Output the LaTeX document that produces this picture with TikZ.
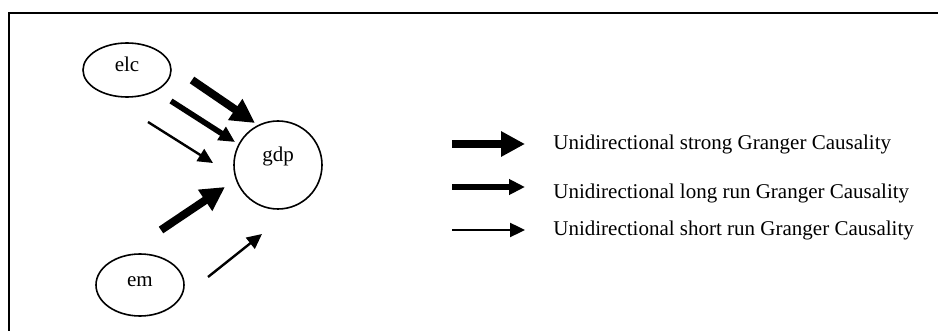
\documentclass[tikz,border=0pt]{standalone}
\usepackage{fontspec}
\setmainfont{Liberation Serif}
\usetikzlibrary{arrows.meta, shapes.geometric}

\begin{document}
\begin{tikzpicture}[x=0.5pt, y=-0.5pt,
    txt/.style={font=\fontsize{10.5pt}{12pt}\selectfont, inner sep=0pt},
    bubble/.style={ellipse, draw, line width=0.8pt, inner sep=0pt},
    strongarrow/.style={line width=4pt, -{Triangle[length=12pt, width=12pt]}},
    longarrow/.style={line width=2.8pt, -{Triangle[length=8pt, width=7.5pt]}},
    shortarrow/.style={line width=1.2pt, -{Triangle[length=7.5pt, width=7pt]}}]
    \useasboundingbox (0, 0) rectangle (938, 331);
    \clip (0, 0) rectangle (938, 331);
    \draw[line width=1pt] (9, 13) rectangle (960, 360);

    \node[bubble, minimum width=44pt, minimum height=27pt] (elc) at (127, 70) {};
    \node[bubble, circle, minimum size=44pt] (gdp) at (278, 165) {};
    \node[bubble, minimum width=44pt, minimum height=31pt] (em) at (140, 285) {};
    \node[txt, anchor=base] (elctext) at (127, 72) {elc};
    \node[txt, anchor=base] (gdptext) at (278, 162) {gdp};
    \node[txt, anchor=base] (emtext) at (140, 287) {em};

    \coordinate (s1) at (192, 80);   \coordinate (s2) at (255, 123);
    \coordinate (l1) at (171, 101);  \coordinate (l2) at (235, 142);
    \coordinate (t1) at (148, 122);  \coordinate (t2) at (213, 163);
    \coordinate (m1) at (161, 230);  \coordinate (m2) at (225, 187);
    \coordinate (n1) at (208, 277);  \coordinate (n2) at (262, 234);
    \draw[strongarrow] (s1) -- (s2);
    \draw[longarrow] (l1) -- (l2);
    \draw[shortarrow] (t1) -- (t2);
    \draw[strongarrow] (m1) -- (m2);
    \draw[shortarrow] (n1) -- (n2);

    % legend
    \coordinate (k1) at (452, 144);  \coordinate (k2) at (525, 144);
    \coordinate (k3) at (452, 187);  \coordinate (k4) at (525, 187);
    \coordinate (k5) at (452, 230);  \coordinate (k6) at (525, 230);
    \draw[strongarrow] (k1) -- (k2);
    \draw[longarrow] (k3) -- (k4);
    \draw[shortarrow] (k5) -- (k6);
    \node[txt, anchor=base west] (strongtext) at (553, 150) {Unidirectional strong Granger Causality};
    \node[txt, anchor=base west] (longtext) at (553, 199) {Unidirectional long run Granger Causality};
    \node[txt, anchor=base west] (shorttext) at (553, 236) {Unidirectional short run Granger Causality};
\end{tikzpicture}
\end{document}
